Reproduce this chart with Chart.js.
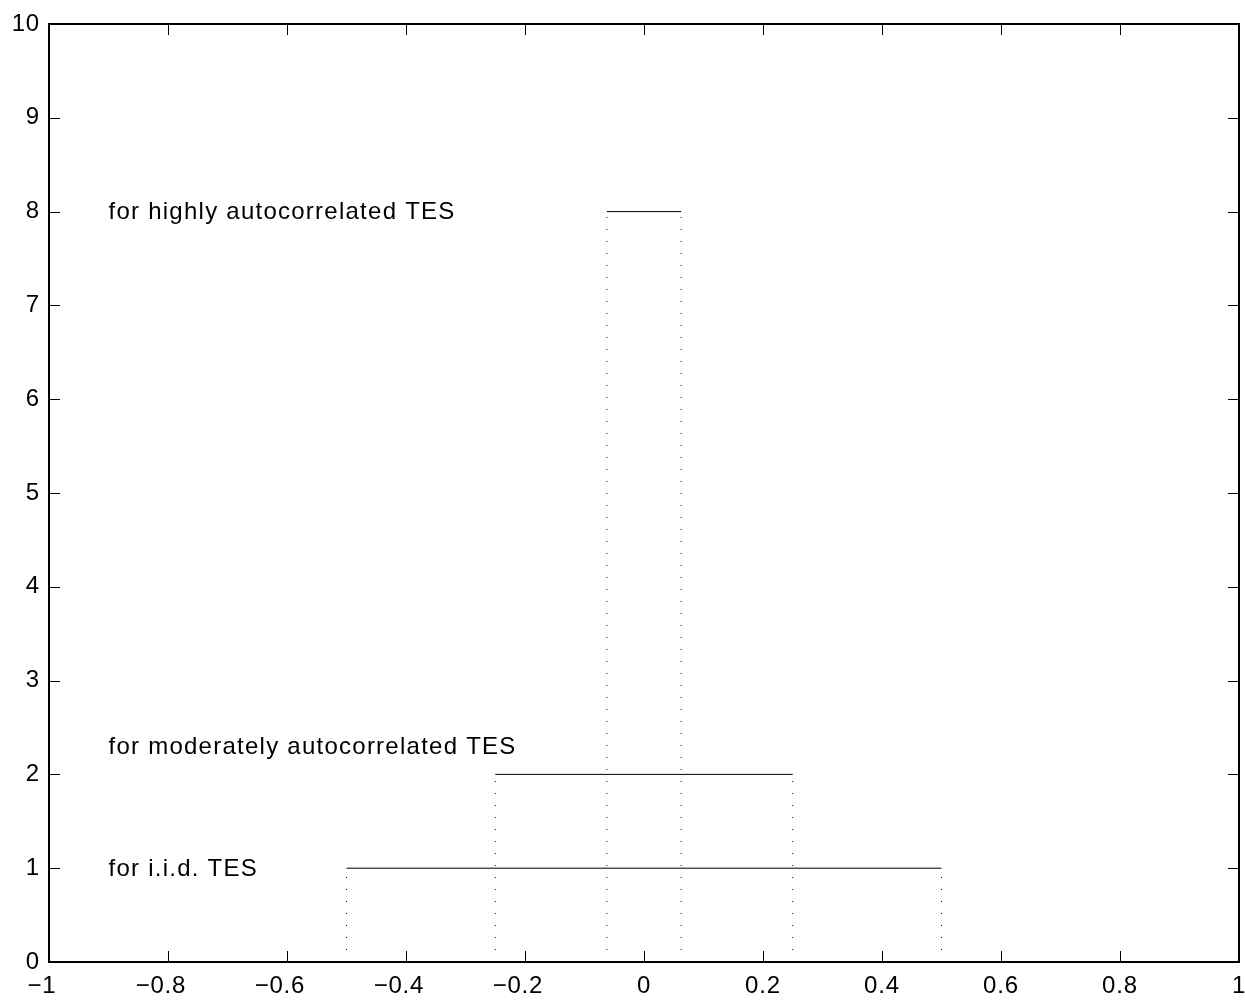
<!DOCTYPE html>
<html lang="en">
<head>
    <meta charset="UTF-8">
    <title>TES intervals</title>
    <script src="https://cdn.jsdelivr.net/npm/chart.js@4.4.0/dist/chart.umd.min.js"></script>
    <style>
        body {
            margin: 0;
            background: #fff;
        }
        canvas {
            display: block;
        }
    </style>
</head>
<body>
    <canvas id="tesChart" width="1245" height="1000"></canvas>

<script>
// uniform densities: interval bounds and heights
const lowerBounds = [-0.5, -0.25, -0.0625];
const upperBounds = [0.5, 0.25, 0.0625];
const heights = [1, 2, 8];

// text labels placed in data coordinates
const noteTexts = ['for i.i.d. TES', 'for moderately autocorrelated TES', 'for highly autocorrelated TES'];
const noteX = [-0.9, -0.9, -0.9];
const noteY = [1, 2.3, 8];

const xTicks = [-1, -0.8, -0.6, -0.4, -0.2, 0, 0.2, 0.4, 0.6, 0.8, 1];
const yTicks = [0, 1, 2, 3, 4, 5, 6, 7, 8, 9, 10];

const FONT = '"Liberation Sans", Arial, Helvetica, sans-serif';
const FONT_SIZE = 24;

var datasets = [];
for (let i = 0; i < heights.length; i++) {
    // flat top
    datasets.push({
        data: [{x: lowerBounds[i], y: heights[i]}, {x: upperBounds[i], y: heights[i]}],
        showLine: true,
        borderColor: '#000',
        borderWidth: 1,
        pointRadius: 0
    });
    // dotted sides
    datasets.push({
        data: [
            {x: lowerBounds[i], y: 0}, {x: lowerBounds[i], y: heights[i]},
            {x: NaN, y: NaN},
            {x: upperBounds[i], y: 0}, {x: upperBounds[i], y: heights[i]}
        ],
        showLine: true,
        spanGaps: false,
        borderColor: '#000',
        borderWidth: 1,
        borderDash: [1, 11],
        pointRadius: 0
    });
}

function fmt(v) {
    let s = String(Math.round(v * 10) / 10);
    if (v < 0) s = '\u2212' + s.slice(1) + '\u2007';
    return s;
}

// looser letter spacing for the tick labels
const spacing = {
    id: 'spacing',
    beforeDraw(chart) {
        chart.ctx.letterSpacing = '0.8px';
    }
};

// box, inward ticks on all four sides, and the text notes
const frame = {
    id: 'frame',
    afterDatasetsDraw(chart) {
        const ctx = chart.ctx;
        const a = chart.chartArea;
        const xs = chart.scales.x, ys = chart.scales.y;
        const len = 11;
        ctx.save();
        ctx.strokeStyle = '#000';
        ctx.lineWidth = 1;
        ctx.beginPath();
        xTicks.forEach(v => {
            const px = Math.round(xs.getPixelForValue(v)) + 0.5;
            ctx.moveTo(px, a.bottom); ctx.lineTo(px, a.bottom - len);
            ctx.moveTo(px, a.top); ctx.lineTo(px, a.top + len);
        });
        yTicks.forEach(v => {
            const py = Math.round(ys.getPixelForValue(v)) + 0.5;
            ctx.moveTo(a.left, py); ctx.lineTo(a.left + len, py);
            ctx.moveTo(a.right, py); ctx.lineTo(a.right - len, py);
        });
        ctx.stroke();
        ctx.lineWidth = 2;
        ctx.strokeRect(a.left, a.top, a.right - a.left, a.bottom - a.top);

        ctx.fillStyle = '#000';
        ctx.font = FONT_SIZE + 'px ' + FONT;
        ctx.letterSpacing = '1.25px';
        ctx.textAlign = 'left';
        ctx.textBaseline = 'middle';
        noteTexts.forEach((t, i) => {
            ctx.fillText(t, xs.getPixelForValue(noteX[i]), ys.getPixelForValue(noteY[i]) + 1);
        });
        ctx.restore();
    }
};

new Chart(document.getElementById('tesChart'), {
    type: 'scatter',
    data: { datasets: datasets },
    options: {
        responsive: false,
        animation: false,
        layout: { padding: { top: 24, right: 6, left: 0, bottom: 0 } },
        plugins: {
            legend: { display: false },
            tooltip: { enabled: false }
        },
        scales: {
            x: {
                type: 'linear',
                min: -1,
                max: 1,
                afterBuildTicks: s => { s.ticks = xTicks.map(v => ({value: v})); },
                afterFit: s => { s.height = 38; s.paddingLeft = 0; s.paddingRight = 0; },
                grid: { display: false, drawTicks: false },
                border: { display: false },
                ticks: {
                    color: '#000',
                    font: { family: FONT, size: FONT_SIZE },
                    padding: 10,
                    maxRotation: 0,
                    callback: v => fmt(v)
                }
            },
            y: {
                type: 'linear',
                min: 0,
                max: 10,
                afterBuildTicks: s => { s.ticks = yTicks.map(v => ({value: v})); },
                afterFit: s => { s.width = 49; },
                grid: { display: false, drawTicks: false },
                border: { display: false },
                ticks: {
                    color: '#000',
                    font: { family: FONT, size: FONT_SIZE },
                    padding: 9,
                    callback: v => String(v)
                }
            }
        }
    },
    plugins: [spacing, frame]
});
</script>
</body>
</html>
